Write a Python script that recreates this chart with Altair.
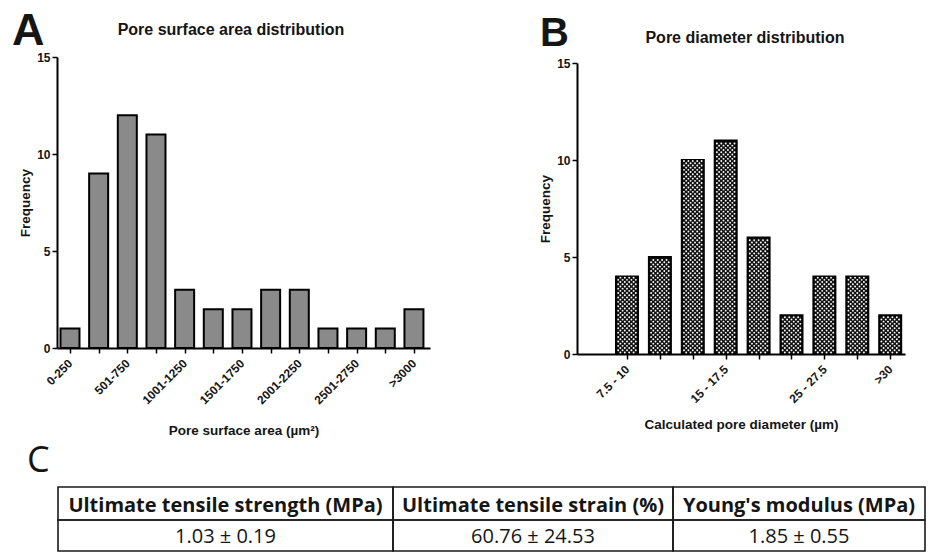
import json
import altair as alt
import pandas as pd

# ---- data ---------------------------------------------------------------
area_bins = ["0-250", "251-500", "501-750", "751-1000", "1001-1250", "1251-1500",
             "1501-1750", "1751-2000", "2001-2250", "2251-2500", "2501-2750",
             "2751-3000", ">3000"]
area_freq = [1, 9, 12, 11, 3, 2, 2, 3, 3, 1, 1, 1, 2]
area_shown = [0, 2, 4, 6, 8, 10, 12]          # bins whose label is printed

diam_bins = ["7.5 - 10", "10 - 12.5", "12.5 - 15", "15 - 17.5", "17.5 - 20",
             "20 - 25", "25 - 27.5", "27.5 - 30", ">30"]
diam_freq = [4, 5, 10, 11, 6, 2, 4, 4, 2]
diam_shown = [0, 3, 6, 8]

y_ticks = [0, 5, 10, 15]

table_headers = ["Ultimate tensile strength (MPa)", "Ultimate tensile strain (%)",
                 "Young's modulus (MPa)"]
table_values = ["1.03 \u00b1 0.19", "60.76 \u00b1 24.53", "1.85 \u00b1 0.55"]

# ---- page layout (pixels) ------------------------------------------------
W, H = 929, 552
FONT = "Liberation Sans"
TABLE_FONT = "Open Sans"
TEXT = "#151515"
one = pd.DataFrame({"k": [0]})


def label_expr(bins, shown):
    arr = [b if i in shown else "" for i, b in enumerate(bins)]
    return f"{json.dumps(arr)}[datum.value]"


def text(t, x, y, size, weight="bold", font=FONT, align="left"):
    return alt.Chart(one).mark_text(
        text=t, font=font, fontSize=size, fontWeight=weight, color=TEXT,
        align=align, baseline="alphabetic").encode(x=alt.value(x), y=alt.value(y))


def scales(domain, left, right, top, bottom):
    xs = alt.Scale(domain=domain, range=[left, right], nice=False, zero=False,
                   padding=0)
    ys = alt.Scale(domain=[0, 15], range=[bottom, top], nice=False, zero=False,
                   padding=0)
    return xs, ys


def histogram(df, bins, shown, xs, ys, left, bottom, bar_w, fill, x_title, x_title_dy,
              top):
    return alt.Chart(df).mark_bar(
        size=bar_w, fill=fill, stroke="black", strokeWidth=2
    ).encode(
        x=alt.X("idx:Q", scale=xs,
                axis=alt.Axis(orient="bottom", offset=bottom - H,
                              values=list(range(len(bins))),
                              labelExpr=label_expr(bins, shown), labelOverlap=False,
                              labelAngle=-45, labelAlign="right",
                              labelBaseline="middle", labelPadding=8,
                              title=x_title, titleY=x_title_dy,
                              titleBaseline="alphabetic")),
        y=alt.Y("freq:Q", scale=ys,
                axis=alt.Axis(orient="left", offset=-left, values=y_ticks,
                              title="Frequency", titleAngle=-90,
                              titleX=-32, titleY=(top + bottom) / 2,
                              titleBaseline="middle", titleAlign="center")),
        tooltip=["bin:N", "freq:Q"],
    )


# ---- panel A: pore surface area ------------------------------------------
df_a = pd.DataFrame({"idx": range(len(area_bins)), "bin": area_bins, "freq": area_freq})
xs_a, ys_a = scales([-0.453, 12.56], 57, 430, 57, 348)
hist_a = histogram(df_a, area_bins, area_shown, xs_a, ys_a, 57, 348, 19, "#8a8a8a",
                   "Pore surface area  (\u00b5m\u00b2)", 86, 57)

# ---- panel B: pore diameter ----------------------------------------------
df_b = pd.DataFrame({"idx": range(len(diam_bins)), "bin": diam_bins, "freq": diam_freq})
xs_b, ys_b = scales([-1.52, 8.45], 577, 905, 63, 354)
hist_b = histogram(df_b, diam_bins, diam_shown, xs_b, ys_b, 577, 354, 22, "#111111",
                   "Calculated pore diameter (\u00b5m)", 74, 63)

# halftone fill of the B bars: staggered rows of white dots inside every bar,
# drawn on the same explicit scales as the bars
ROW = 0.1134
halftone_b = alt.Chart(df_b).transform_calculate(
    row=f"sequence(0.08, datum.freq - 0.05, {ROW})"
).transform_flatten(["row"]).transform_calculate(
    odd=f"round(datum.row / {ROW}) % 2"
).transform_calculate(
    col="datum.odd == 1 ? sequence(-0.201, 0.21, 0.134) : sequence(-0.268, 0.28, 0.134)"
).transform_flatten(["col"]).transform_calculate(
    px="datum.idx + datum.col"
).mark_circle(size=3.6, color="white", opacity=1).encode(
    x=alt.X("px:Q", scale=xs_b, axis=None),
    y=alt.Y("row:Q", scale=ys_b, axis=None),
)

# ---- panel C: mechanical properties table --------------------------------
edges = [58, 393, 673, 925]
row_y = [487, 520, 551]
tbl = pd.DataFrame({
    "header": table_headers,
    "value": table_values,
    "x0": edges[:-1],
    "x1": edges[1:],
})
tbl["xc"] = (tbl["x0"] + tbl["x1"]) / 2

base = alt.Chart(tbl)
cells_head = base.mark_rect(filled=False, stroke="#1a1a1a", strokeWidth=1.6).encode(
    x=alt.X("x0:Q", scale=None), x2="x1:Q", y=alt.value(row_y[0]), y2=alt.value(row_y[1]))
cells_val = base.mark_rect(filled=False, stroke="#1a1a1a", strokeWidth=1.6).encode(
    x=alt.X("x0:Q", scale=None), x2="x1:Q", y=alt.value(row_y[1]), y2=alt.value(row_y[2]))
head_txt = base.mark_text(font=TABLE_FONT, fontSize=20, fontWeight="bold",
                          color=TEXT, baseline="alphabetic").encode(
    x=alt.X("xc:Q", scale=None), y=alt.value(512), text="header:N")
val_txt = base.mark_text(font=TABLE_FONT, fontSize=20, fontWeight="normal",
                         color=TEXT, baseline="alphabetic").encode(
    x=alt.X("xc:Q", scale=None), y=alt.value(543), text="value:N")

chart = alt.layer(
    hist_a,
    hist_b,
    halftone_b,
    text("A", 12, 45, 45),
    text("Pore surface area distribution", 231, 35, 16, align="center"),
    text("B", 540, 46, 40),
    text("Pore diameter distribution", 745, 43, 16, align="center"),
    cells_head, cells_val, head_txt, val_txt,
    text("C", 27, 472, 36, weight="normal", font=TABLE_FONT),
).resolve_scale(
    x="independent", y="independent"
).properties(
    width=W, height=H, padding=0, background="white",
    autosize=alt.AutoSizeParams(type="none"),
).configure_view(
    stroke=None
).configure_axis(
    grid=False,
    domainColor="black", domainWidth=2,
    tickColor="black", tickWidth=1.5, tickSize=5,
    labelFont=FONT, labelFontSize=12, labelFontWeight="bold", labelColor=TEXT,
    labelPadding=2,
    titleFont=FONT, titleFontSize=13.5, titleFontWeight="bold", titleColor=TEXT,
)

chart.save("out.html", embed_options={"renderer": "svg", "actions": False})
